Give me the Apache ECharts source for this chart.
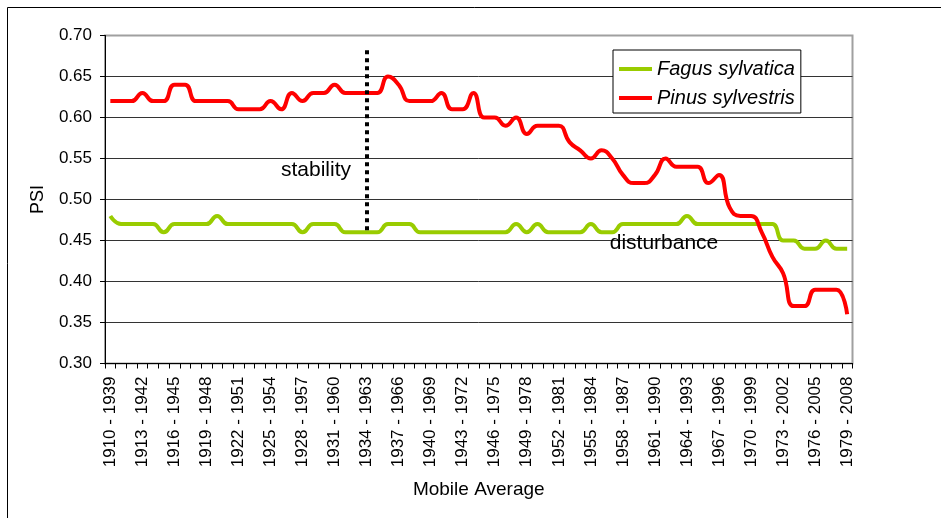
<!DOCTYPE html>
<html>
<head>
<meta charset="utf-8">
<script src="https://cdn.jsdelivr.net/npm/echarts@6/dist/echarts.min.js"></script>
<style>
html,body{margin:0;padding:0;background:#fff;}
#chart{width:941px;height:518px;}
</style>
</head>
<body>
<div id="chart"></div>
<script>
const categories = [
 '1910 - 1939','1911 - 1940','1912 - 1941','1913 - 1942','1914 - 1943','1915 - 1944','1916 - 1945','1917 - 1946','1918 - 1947','1919 - 1948',
 '1920 - 1949','1921 - 1950','1922 - 1951','1923 - 1952','1924 - 1953','1925 - 1954','1926 - 1955','1927 - 1956','1928 - 1957','1929 - 1958',
 '1930 - 1959','1931 - 1960','1932 - 1961','1933 - 1962','1934 - 1963','1935 - 1964','1936 - 1965','1937 - 1966','1938 - 1967','1939 - 1968',
 '1940 - 1969','1941 - 1970','1942 - 1971','1943 - 1972','1944 - 1973','1945 - 1974','1946 - 1975','1947 - 1976','1948 - 1977','1949 - 1978',
 '1950 - 1979','1951 - 1980','1952 - 1981','1953 - 1982','1954 - 1983','1955 - 1984','1956 - 1985','1957 - 1986','1958 - 1987','1959 - 1988',
 '1960 - 1989','1961 - 1990','1962 - 1991','1963 - 1992','1964 - 1993','1965 - 1994','1966 - 1995','1967 - 1996','1968 - 1997','1969 - 1998',
 '1970 - 1999','1971 - 2000','1972 - 2001','1973 - 2002','1974 - 2003','1975 - 2004','1976 - 2005','1977 - 2006','1978 - 2007','1979 - 2008'
];

const fagusSylvatica = [
 0.48,0.47,0.47,0.47,0.47,0.46,0.47,0.47,0.47,0.47,
 0.48,0.47,0.47,0.47,0.47,0.47,0.47,0.47,0.46,0.47,
 0.47,0.47,0.46,0.46,0.46,0.46,0.47,0.47,0.47,0.46,
 0.46,0.46,0.46,0.46,0.46,0.46,0.46,0.46,0.47,0.46,
 0.47,0.46,0.46,0.46,0.46,0.47,0.46,0.46,0.47,0.47,
 0.47,0.47,0.47,0.47,0.48,0.47,0.47,0.47,0.47,0.47,
 0.47,0.47,0.47,0.45,0.45,0.44,0.44,0.45,0.44,0.44
];

const pinusSylvestris = [
 0.62,0.62,0.62,0.63,0.62,0.62,0.64,0.64,0.62,0.62,
 0.62,0.62,0.61,0.61,0.61,0.62,0.61,0.63,0.62,0.63,
 0.63,0.64,0.63,0.63,0.63,0.63,0.65,0.64,0.62,0.62,
 0.62,0.63,0.61,0.61,0.63,0.60,0.60,0.59,0.60,0.58,
 0.59,0.59,0.59,0.57,0.56,0.55,0.56,0.55,0.53,0.52,
 0.52,0.53,0.55,0.54,0.54,0.54,0.52,0.53,0.49,0.48,
 0.48,0.46,0.43,0.41,0.37,0.37,0.39,0.39,0.39,0.36
];

const yTicks = [0.30,0.35,0.40,0.45,0.50,0.55,0.60,0.65,0.70];
const dividerCategory = '1934 - 1963';
const dividerRange = [0.682, 0.46];
const seriesNames = ['Fagus sylvatica','Pinus sylvestris'];

const FONT = "'Liberation Sans', Arial, sans-serif";
const chart = echarts.init(document.getElementById('chart'), null, {renderer:'canvas'});

chart.setOption({
  animation: false,
  backgroundColor: '#fff',
  textStyle: {fontFamily: FONT},
  grid: {left: 105, right: 88.5, top: 35.5, bottom: 154.5, show: true, borderColor: '#a0a0a0', borderWidth: 2, backgroundColor: '#fff'},
  legend: {
    data: seriesNames,
    orient: 'vertical',
    left: 613, top: 50,
    backgroundColor: '#fff',
    borderColor: '#000', borderWidth: 1,
    padding: [9, 6, 5, 6],
    itemGap: 9,
    itemWidth: 33, itemHeight: 4,
    icon: 'rect',
    textStyle: {fontFamily: FONT, fontSize: 20, fontStyle: 'italic', color: '#000'}
  },
  xAxis: {
    type: 'category',
    data: categories,
    boundaryGap: true,
    name: 'Mobile Average',
    nameLocation: 'middle',
    nameGap: 117,
    nameTextStyle: {fontFamily: FONT, fontSize: 19, color: '#000'},
    axisLine: {lineStyle: {color: '#000', width: 1}},
    axisTick: {show: true, interval: 0, length: 5, lineStyle: {color: '#000'}},
    axisLabel: {interval: 2, rotate: 90, margin: 13, fontSize: 17, color: '#000', fontFamily: FONT},
    splitLine: {show: false}
  },
  yAxis: {
    type: 'value',
    min: yTicks[0], max: yTicks[yTicks.length - 1], interval: 0.05,
    name: 'PSI',
    nameLocation: 'middle',
    nameGap: 58,
    nameTextStyle: {fontFamily: FONT, fontSize: 18, color: '#000'},
    axisLine: {show: true, lineStyle: {color: '#000', width: 1}},
    axisTick: {show: true, length: 5, lineStyle: {color: '#000'}},
    axisLabel: {margin: 13, fontSize: 17, color: '#000', fontFamily: FONT, formatter: v => v.toFixed(2)},
    splitLine: {show: true, showMaxLine: false, lineStyle: {color: '#333', width: 1}}
  },
  series: [
    {
      name: seriesNames[0], type: 'line', data: fagusSylvatica,
      smooth: 0.5, showSymbol: false, symbol: 'none',
      lineStyle: {color: '#99CC00', width: 4}, itemStyle: {color: '#99CC00'},
      z: 3
    },
    {
      name: seriesNames[1], type: 'line', data: pinusSylvestris,
      smooth: 0.5, showSymbol: false, symbol: 'none',
      lineStyle: {color: '#FF0000', width: 4}, itemStyle: {color: '#FF0000'},
      z: 4,
      markLine: {
        silent: true, symbol: ['none','none'], animation: false,
        label: {show: false},
        lineStyle: {type: 'dotted', width: 4, color: '#000', cap: 'butt'},
        data: [[{coord: [dividerCategory, dividerRange[0]]}, {coord: [dividerCategory, dividerRange[1]]}]]
      }
    }
  ],
  graphic: [
    {type: 'rect', silent: true, z: -10, shape: {x: 7.5, y: 7.5, width: 1000, height: 1000}, style: {fill: 'none', stroke: '#000', lineWidth: 1}},
    {type: 'text', silent: true, z: 10, style: {x: 316, y: 170, text: 'stability', fontFamily: FONT, fontSize: 21, fill: '#000', align: 'center', verticalAlign: 'middle'}},
    {type: 'text', silent: true, z: 10, style: {x: 664, y: 243, text: 'disturbance', fontFamily: FONT, fontSize: 21, fill: '#000', align: 'center', verticalAlign: 'middle'}}
  ]
});
</script>
</body>
</html>
